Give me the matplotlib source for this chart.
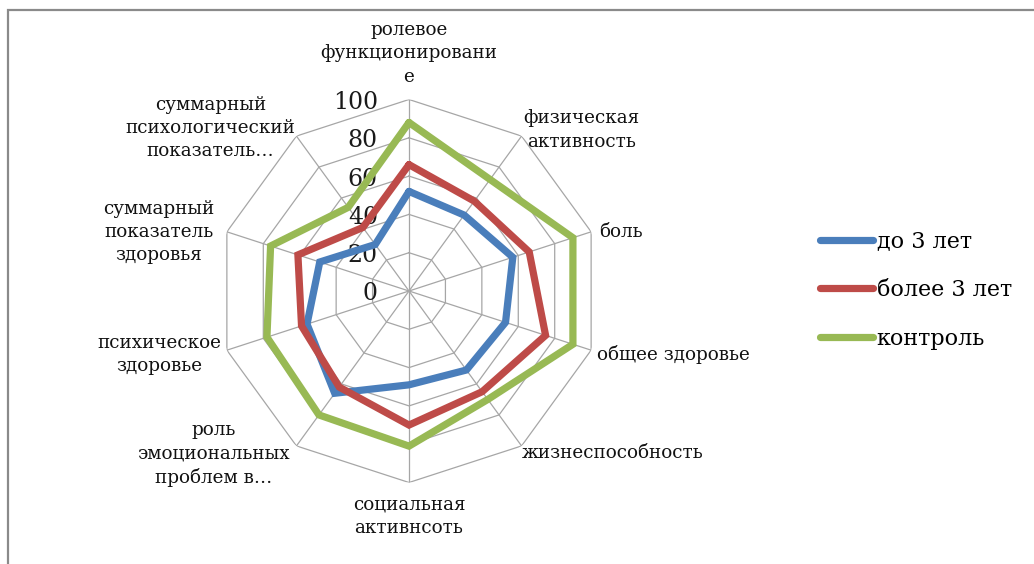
import numpy as np
import matplotlib.pyplot as plt
from matplotlib.patches import Rectangle

# axes of the radar, clockwise from the top
categories = ['ролевое\nфункционировани\nе', 'физическая\nактивность', 'боль',
              'общее здоровье', 'жизнеспособность', 'социальная\nактивнсоть',
              'роль\nэмоциональных\nпроблем в…', 'психическое\nздоровье',
              'суммарный\nпоказатель\nздоровья',
              'суммарный\nпсихологический\nпоказатель…']

series_names = ['до 3 лет', 'более 3 лет', 'контроль']
up_to_3 = [52, 49, 57, 53, 51, 49, 66, 56, 49, 30]
over_3 = [66, 58, 66, 75, 65, 70, 62, 59, 61, 41]
control = [88, 72, 90, 90, 70, 81, 80, 78, 76, 54]
ticks = [0, 20, 40, 60, 80, 100]

colors = ['#4A7EBB', '#BE4B48', '#98B954']

plt.rcParams['font.family'] = ['DejaVu Serif']

W, H = 1034, 564
fig = plt.figure(figsize=(W / 100, H / 100), dpi=100)

# frame of the chart area (cropped at right/bottom)
fig.patches.append(Rectangle((7.5 / W, -0.1), 1.2, 1 - 10.5 / H + 0.1,
                             transform=fig.transFigure, fill=False,
                             edgecolor='#8A8A8A', lw=1.6))

cx, cy, rad = 409, 291, 191.5
ax = fig.add_axes([(cx - rad) / W, (H - cy - rad) / H, 2 * rad / W, 2 * rad / H],
                  projection='polar')
ax.set_theta_zero_location('N')
ax.set_theta_direction(-1)
ax.set_ylim(0, 100)
ax.grid(False)
ax.spines['polar'].set_visible(False)
ax.set_xticks([])
ax.set_yticks([])
ax.patch.set_alpha(0)

n = len(categories)
theta = np.arange(n) * 2 * np.pi / n
theta_c = np.append(theta, theta[0])

# polygon grid
for t in ticks[1:]:
    ax.plot(theta_c, [t] * (n + 1), color='#A6A6A6', lw=0.9, zorder=1)
for th in theta:
    ax.plot([th, th], [0, 100], color='#A6A6A6', lw=0.9, zorder=1)

for t in ticks:
    ax.annotate(str(t), xy=(0, t), xytext=(-31, -3), textcoords='offset pixels',
                ha='right', va='center', fontsize=17, color='#1a1a1a')

for vals, name, c in zip([up_to_3, over_3, control], series_names, colors):
    ax.plot(theta_c, vals + vals[:1], color=c, lw=5.2, label=name,
            solid_joinstyle='miter', solid_capstyle='round', zorder=3)

# category labels: offsets (pixels) from the outer vertex
offsets = [(0, 46, 'center'), (60, 6, 'center'), (8, 0, 'left'), (6, -4, 'left'),
           (0, -7, 'left'), (0, -34, 'center'), (-83, -8, 'center'),
           (-68, -4, 'center'), (-68, 0, 'center'), (-86, 8, 'center')]
for th, lab, (dx, dy, ha) in zip(theta, categories, offsets):
    ax.annotate(lab, xy=(th, 100), xytext=(dx, dy), textcoords='offset pixels',
                ha=ha, va='center', multialignment='center', fontsize=13.2,
                linespacing=1.38, color='#111111')

fig.legend(loc='center left', bbox_to_anchor=(800 / W, 1 - 290 / H),
           frameon=False, fontsize=16, handlelength=2.4, handletextpad=0.15,
           labelspacing=1.2)

fig.savefig('out.png', dpi=100)
